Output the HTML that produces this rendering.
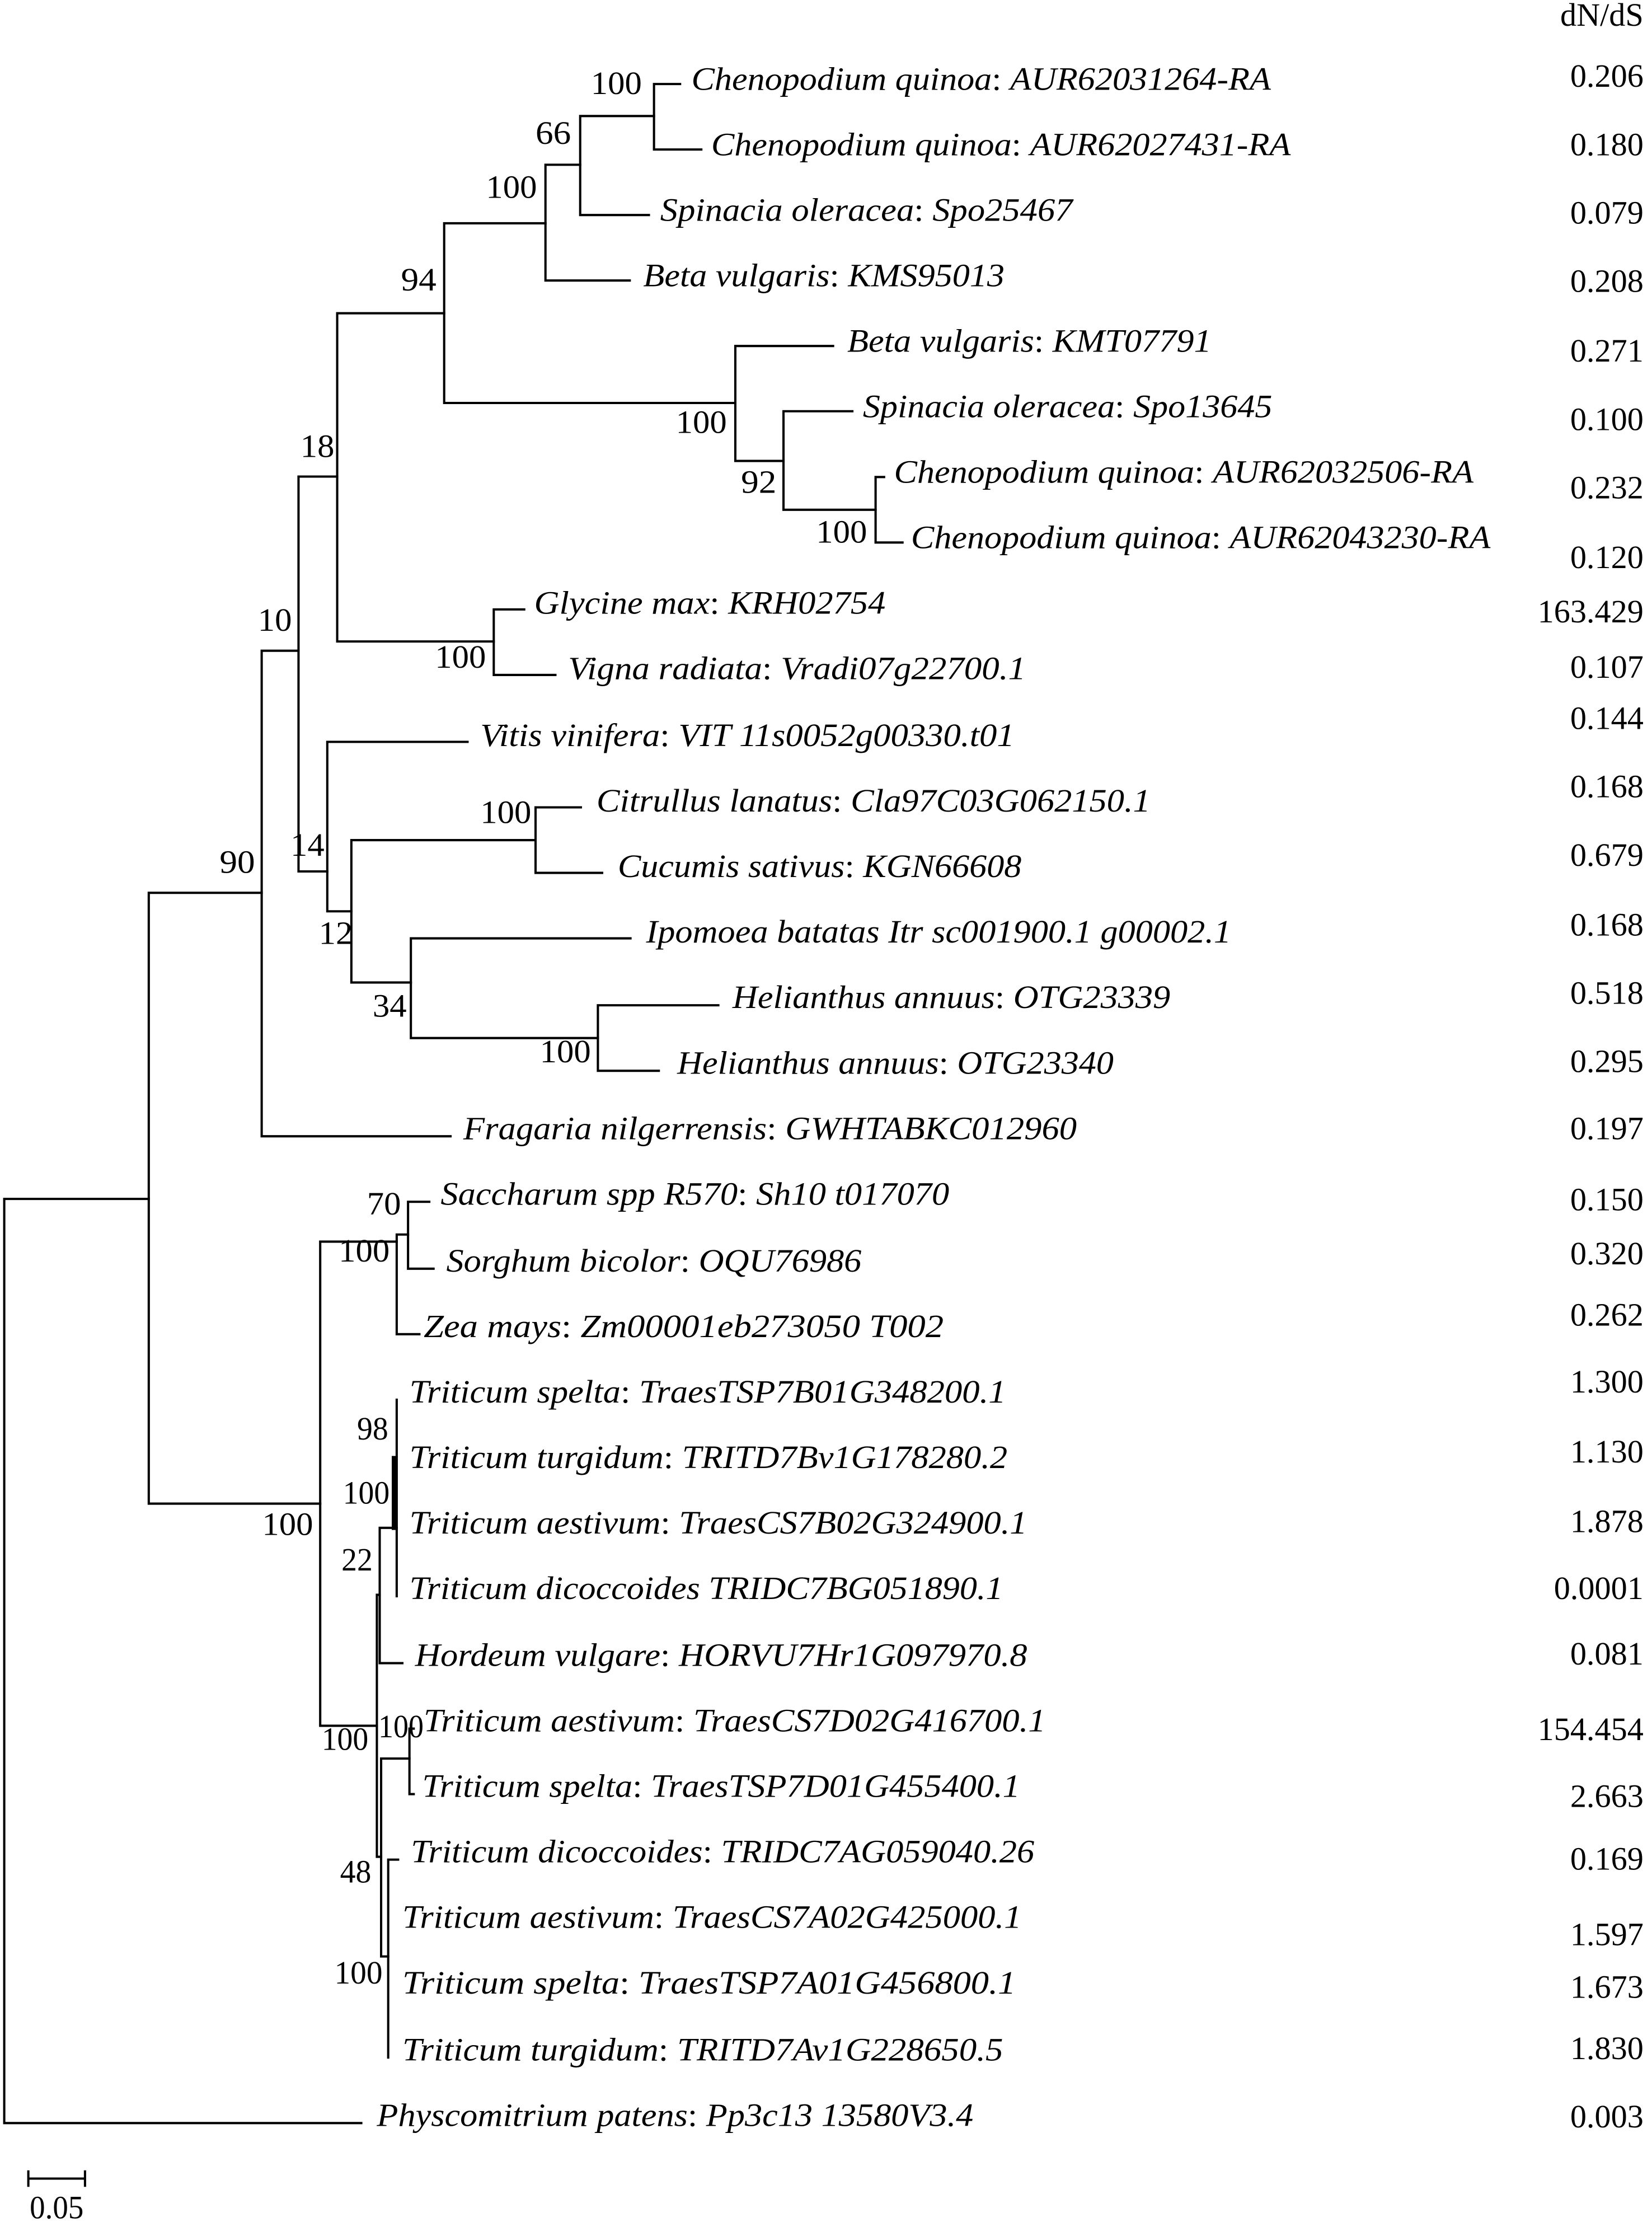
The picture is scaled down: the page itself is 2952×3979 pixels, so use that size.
<!DOCTYPE html>
<html><head><meta charset="utf-8"><style>
html,body{margin:0;padding:0;background:#fff;}
svg{display:block;}
text{font-family:"Liberation Serif",serif;font-size:23px;fill:#000;}
.s{font-style:italic;}
</style></head><body>
<svg width="2952" height="3979" viewBox="0 0 1166 1564" preserveAspectRatio="none" xmlns="http://www.w3.org/2000/svg">
<g stroke="#000" stroke-width="1.6" fill="none" stroke-linecap="square">
<path d="M3 842V1491M3 1491H255M3 842H105"/>
<path d="M105 627V1056M105 627H184.7M105 1056H226"/>
<path d="M184.7 457V798M184.7 798H318M184.7 457H210.7"/>
<path d="M210.7 334.7V612M210.7 334.7H238M210.7 612H231"/>
<path d="M238 220V450.5M238 220H313.5M238 450.5H348.5"/>
<path d="M313.5 156.8V283M313.5 156.8H385M313.5 283H519"/>
<path d="M385 115.7V197M385 115.7H409.5M385 197H444.5"/>
<path d="M409.5 81.5V151M409.5 81.5H461.6M409.5 151H458"/>
<path d="M461.6 59V105M461.6 59H480M461.6 105H495"/>
<path d="M519 243V323.7M519 243H588M519 323.7H553"/>
<path d="M553 288.8V358M553 288.8H601.6M553 358H618"/>
<path d="M618 335V381M618 335H624M618 381H637"/>
<path d="M348.5 428V474M348.5 428H370M348.5 474H392"/>
<path d="M231 521V640M231 521H330M231 640H248"/>
<path d="M248 590V690M248 590H378M248 690H290"/>
<path d="M378 567V613M378 567H410M378 613H425"/>
<path d="M290 659V729M290 659H445M290 729H422"/>
<path d="M422 706V752M422 706H507M422 752H465"/>
<path d="M226 872V1212M226 872H280M226 1212H266"/>
<path d="M280 867V937M280 867H288M280 937H296"/>
<path d="M288 844V891M288 844H303M288 891H306"/>
<path d="M266 1120V1304M266 1120H268M266 1304H269"/>
<path d="M268 1073V1168M268 1073H280M268 1168H284"/>
<path d="M280 983V1121"/>
<path d="M278 1024V1073" stroke-width="3"/>
<path d="M269 1235V1374M269 1235H289M269 1374H274"/>
<path d="M289 1214V1260M289 1214H292M289 1260H292"/>
<path d="M274 1306V1445M274 1306H281"/>
<path d="M20 1530H60M20 1525V1535M60 1525V1535"/>
</g>
<g transform="translate(0,-2)">
<text x="488" y="65" textLength="409" lengthAdjust="spacingAndGlyphs"><tspan class="s">Chenopodium quinoa</tspan>: <tspan class="s">AUR62031264-RA</tspan></text>
<text x="502" y="111" textLength="409" lengthAdjust="spacingAndGlyphs"><tspan class="s">Chenopodium quinoa</tspan>: <tspan class="s">AUR62027431-RA</tspan></text>
<text x="466" y="157" textLength="291" lengthAdjust="spacingAndGlyphs"><tspan class="s">Spinacia oleracea</tspan>: <tspan class="s">Spo25467</tspan></text>
<text x="454" y="203" textLength="255" lengthAdjust="spacingAndGlyphs"><tspan class="s">Beta vulgaris</tspan>: <tspan class="s">KMS95013</tspan></text>
<text x="598" y="249" textLength="257" lengthAdjust="spacingAndGlyphs"><tspan class="s">Beta vulgaris</tspan>: <tspan class="s">KMT07791</tspan></text>
<text x="609" y="295" textLength="289" lengthAdjust="spacingAndGlyphs"><tspan class="s">Spinacia oleracea</tspan>: <tspan class="s">Spo13645</tspan></text>
<text x="631" y="341" textLength="409" lengthAdjust="spacingAndGlyphs"><tspan class="s">Chenopodium quinoa</tspan>: <tspan class="s">AUR62032506-RA</tspan></text>
<text x="643" y="387" textLength="409" lengthAdjust="spacingAndGlyphs"><tspan class="s">Chenopodium quinoa</tspan>: <tspan class="s">AUR62043230-RA</tspan></text>
<text x="377" y="433" textLength="248" lengthAdjust="spacingAndGlyphs"><tspan class="s">Glycine max</tspan>: <tspan class="s">KRH02754</tspan></text>
<text x="401" y="479" textLength="323" lengthAdjust="spacingAndGlyphs"><tspan class="s">Vigna radiata</tspan>: <tspan class="s">Vradi07g22700.1</tspan></text>
<text x="339" y="526" textLength="377" lengthAdjust="spacingAndGlyphs"><tspan class="s">Vitis vinifera</tspan>: <tspan class="s">VIT 11s0052g00330.t01</tspan></text>
<text x="421" y="572" textLength="391" lengthAdjust="spacingAndGlyphs"><tspan class="s">Citrullus lanatus</tspan>: <tspan class="s">Cla97C03G062150.1</tspan></text>
<text x="436" y="618" textLength="285" lengthAdjust="spacingAndGlyphs"><tspan class="s">Cucumis sativus</tspan>: <tspan class="s">KGN66608</tspan></text>
<text x="456" y="664" textLength="413" lengthAdjust="spacingAndGlyphs" class="s">Ipomoea batatas Itr sc001900.1 g00002.1</text>
<text x="517" y="710" textLength="309" lengthAdjust="spacingAndGlyphs"><tspan class="s">Helianthus annuus</tspan>: <tspan class="s">OTG23339</tspan></text>
<text x="478" y="756" textLength="308" lengthAdjust="spacingAndGlyphs"><tspan class="s">Helianthus annuus</tspan>: <tspan class="s">OTG23340</tspan></text>
<text x="327" y="802" textLength="433" lengthAdjust="spacingAndGlyphs"><tspan class="s">Fragaria nilgerrensis</tspan>: <tspan class="s">GWHTABKC012960</tspan></text>
<text x="311" y="848" textLength="359" lengthAdjust="spacingAndGlyphs"><tspan class="s">Saccharum spp R570</tspan>: <tspan class="s">Sh10 t017070</tspan></text>
<text x="315" y="895" textLength="293" lengthAdjust="spacingAndGlyphs"><tspan class="s">Sorghum bicolor</tspan>: <tspan class="s">OQU76986</tspan></text>
<text x="299" y="941" textLength="367" lengthAdjust="spacingAndGlyphs"><tspan class="s">Zea mays</tspan>: <tspan class="s">Zm00001eb273050 T002</tspan></text>
<text x="289" y="987" textLength="421" lengthAdjust="spacingAndGlyphs"><tspan class="s">Triticum spelta</tspan>: <tspan class="s">TraesTSP7B01G348200.1</tspan></text>
<text x="289" y="1033" textLength="422" lengthAdjust="spacingAndGlyphs"><tspan class="s">Triticum turgidum</tspan>: <tspan class="s">TRITD7Bv1G178280.2</tspan></text>
<text x="289" y="1079" textLength="436" lengthAdjust="spacingAndGlyphs"><tspan class="s">Triticum aestivum</tspan>: <tspan class="s">TraesCS7B02G324900.1</tspan></text>
<text x="289" y="1125" textLength="419" lengthAdjust="spacingAndGlyphs" class="s">Triticum dicoccoides TRIDC7BG051890.1</text>
<text x="293" y="1172" textLength="432" lengthAdjust="spacingAndGlyphs"><tspan class="s">Hordeum vulgare</tspan>: <tspan class="s">HORVU7Hr1G097970.8</tspan></text>
<text x="299" y="1218" textLength="439" lengthAdjust="spacingAndGlyphs"><tspan class="s">Triticum aestivum</tspan>: <tspan class="s">TraesCS7D02G416700.1</tspan></text>
<text x="298" y="1264" textLength="422" lengthAdjust="spacingAndGlyphs"><tspan class="s">Triticum spelta</tspan>: <tspan class="s">TraesTSP7D01G455400.1</tspan></text>
<text x="290" y="1310" textLength="440" lengthAdjust="spacingAndGlyphs"><tspan class="s">Triticum dicoccoides</tspan>: <tspan class="s">TRIDC7AG059040.26</tspan></text>
<text x="284" y="1356" textLength="437" lengthAdjust="spacingAndGlyphs"><tspan class="s">Triticum aestivum</tspan>: <tspan class="s">TraesCS7A02G425000.1</tspan></text>
<text x="284" y="1402" textLength="433" lengthAdjust="spacingAndGlyphs"><tspan class="s">Triticum spelta</tspan>: <tspan class="s">TraesTSP7A01G456800.1</tspan></text>
<text x="284" y="1449" textLength="424" lengthAdjust="spacingAndGlyphs"><tspan class="s">Triticum turgidum</tspan>: <tspan class="s">TRITD7Av1G228650.5</tspan></text>
<text x="266" y="1495" textLength="421" lengthAdjust="spacingAndGlyphs"><tspan class="s">Physcomitrium patens</tspan>: <tspan class="s">Pp3c13 13580V3.4</tspan></text>
</g>
<g transform="translate(0,-2)">
<text x="417" y="68" textLength="36" lengthAdjust="spacingAndGlyphs">100</text>
<text x="378" y="103" textLength="25" lengthAdjust="spacingAndGlyphs">66</text>
<text x="343" y="141" textLength="36" lengthAdjust="spacingAndGlyphs">100</text>
<text x="283" y="206" textLength="25" lengthAdjust="spacingAndGlyphs">94</text>
<text x="212" y="323" textLength="24" lengthAdjust="spacingAndGlyphs">18</text>
<text x="477" y="306" textLength="36" lengthAdjust="spacingAndGlyphs">100</text>
<text x="523" y="348" textLength="25" lengthAdjust="spacingAndGlyphs">92</text>
<text x="576" y="383" textLength="36" lengthAdjust="spacingAndGlyphs">100</text>
<text x="307" y="471" textLength="36" lengthAdjust="spacingAndGlyphs">100</text>
<text x="182" y="445" textLength="24" lengthAdjust="spacingAndGlyphs">10</text>
<text x="155" y="615" textLength="25" lengthAdjust="spacingAndGlyphs">90</text>
<text x="205" y="603" textLength="24" lengthAdjust="spacingAndGlyphs">14</text>
<text x="339" y="580" textLength="36" lengthAdjust="spacingAndGlyphs">100</text>
<text x="225" y="665" textLength="24" lengthAdjust="spacingAndGlyphs">12</text>
<text x="263" y="716" textLength="24" lengthAdjust="spacingAndGlyphs">34</text>
<text x="381" y="748" textLength="36" lengthAdjust="spacingAndGlyphs">100</text>
<text x="259" y="855" textLength="24" lengthAdjust="spacingAndGlyphs">70</text>
<text x="239" y="888" textLength="36" lengthAdjust="spacingAndGlyphs">100</text>
<text x="252" y="1013" textLength="22" lengthAdjust="spacingAndGlyphs">98</text>
<text x="242" y="1058" textLength="33" lengthAdjust="spacingAndGlyphs">100</text>
<text x="241" y="1105" textLength="22" lengthAdjust="spacingAndGlyphs">22</text>
<text x="185" y="1080" textLength="36" lengthAdjust="spacingAndGlyphs">100</text>
<text x="227" y="1231" textLength="33" lengthAdjust="spacingAndGlyphs">100</text>
<text x="267" y="1222" textLength="32" lengthAdjust="spacingAndGlyphs">100</text>
<text x="240" y="1324" textLength="22" lengthAdjust="spacingAndGlyphs">48</text>
<text x="236" y="1395" textLength="34" lengthAdjust="spacingAndGlyphs">100</text>
<text x="21" y="1560" textLength="38" lengthAdjust="spacingAndGlyphs">0.05</text>
</g>
<g text-anchor="end" transform="translate(0,-2)">
<text x="1160" y="20">dN/dS</text>
<text x="1160" y="63">0.206</text>
<text x="1160" y="111">0.180</text>
<text x="1160" y="159">0.079</text>
<text x="1160" y="207">0.208</text>
<text x="1160" y="256">0.271</text>
<text x="1160" y="304">0.100</text>
<text x="1160" y="352">0.232</text>
<text x="1160" y="401">0.120</text>
<text x="1160" y="439">163.429</text>
<text x="1160" y="478">0.107</text>
<text x="1160" y="514">0.144</text>
<text x="1160" y="562">0.168</text>
<text x="1160" y="610">0.679</text>
<text x="1160" y="659">0.168</text>
<text x="1160" y="707">0.518</text>
<text x="1160" y="755">0.295</text>
<text x="1160" y="802">0.197</text>
<text x="1160" y="852">0.150</text>
<text x="1160" y="890">0.320</text>
<text x="1160" y="933">0.262</text>
<text x="1160" y="980">1.300</text>
<text x="1160" y="1029">1.130</text>
<text x="1160" y="1078">1.878</text>
<text x="1160" y="1125">0.0001</text>
<text x="1160" y="1171">0.081</text>
<text x="1160" y="1224">154.454</text>
<text x="1160" y="1271">2.663</text>
<text x="1160" y="1315">0.169</text>
<text x="1160" y="1368">1.597</text>
<text x="1160" y="1405">1.673</text>
<text x="1160" y="1448">1.830</text>
<text x="1160" y="1496">0.003</text>
</g>
</svg>
</body></html>
